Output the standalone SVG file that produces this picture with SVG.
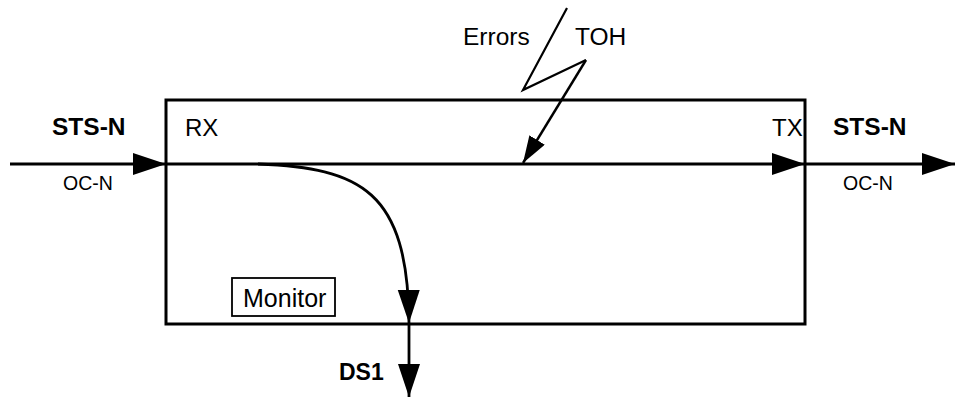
<svg xmlns="http://www.w3.org/2000/svg" width="957" height="397" viewBox="0 0 957 397">
<style>
.t{font-family:"Liberation Sans",Arial,sans-serif;fill:#000}
.b{font-weight:bold}
.ln{fill:none;stroke:#000;stroke-width:2.8}
</style>
<defs>
<marker id="ah" markerUnits="userSpaceOnUse" markerWidth="34" markerHeight="24" refX="33" refY="11" orient="auto" viewBox="0 0 34 24">
<path d="M0,0 L33,11 L0,22 Z" fill="#000"/>
</marker>
<marker id="ah2" markerUnits="userSpaceOnUse" markerWidth="28" markerHeight="22" refX="27" refY="9" orient="auto" viewBox="0 0 28 22">
<path d="M0,0 L27,9 L0,18 Z" fill="#000"/>
</marker>
</defs>
<g id="block">
<rect x="166" y="100" width="639" height="224" fill="#fff" stroke="#000" stroke-width="3"/>
<text class="t" x="185" y="136" font-size="24">RX</text>
<text class="t" x="772" y="136" font-size="24">TX</text>
</g>
<g id="monitor">
<rect x="232" y="278" width="103" height="38" fill="#fff" stroke="#000" stroke-width="1.8"/>
<text class="t" x="243" y="307" font-size="25">Monitor</text>
</g>
<g id="labels">
<text class="t b" x="52" y="135" font-size="24.5">STS-N</text>
<text class="t" x="63" y="190" font-size="19.5">OC-N</text>
<text class="t b" x="833" y="135" font-size="24.5">STS-N</text>
<text class="t" x="843" y="190" font-size="19.5">OC-N</text>
<text class="t" x="463" y="45" font-size="24.5">Errors</text>
<text class="t" x="575" y="45" font-size="24.5">TOH</text>
<text class="t b" x="339" y="380" font-size="23">DS1</text>
</g>
<g id="connectors">
<line class="ln" x1="10" y1="164" x2="166" y2="164" marker-end="url(#ah)"/>
<line class="ln" x1="166" y1="164" x2="805" y2="164" marker-end="url(#ah)"/>
<line class="ln" x1="805" y1="164" x2="955" y2="164" marker-end="url(#ah)"/>
<path class="ln" d="M258,164 C360,168 408,190 409,323" marker-end="url(#ah)"/>
<line class="ln" x1="409" y1="323" x2="409" y2="397" marker-end="url(#ah)"/>
<polyline fill="none" stroke="#000" stroke-width="2.2" points="567,8 523,90 586,60"/>
<line x1="586" y1="60" x2="523" y2="163" stroke="#000" stroke-width="2.4" marker-end="url(#ah2)"/>
</g>
</svg>
